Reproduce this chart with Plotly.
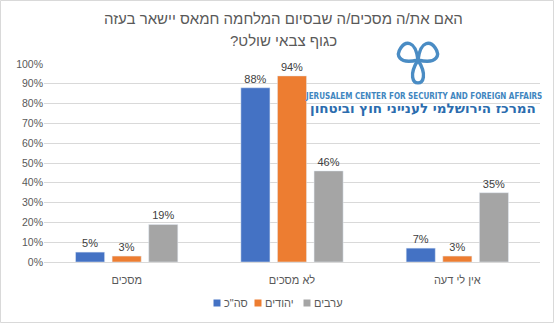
import math
import plotly.graph_objects as go

categories = ["מסכים", "לא מסכים", "אין לי דעה"]
series_names = ["סה\"כ", "יהודים", "ערבים"]
total_vals = [0.05, 0.88, 0.07]
jews_vals = [0.03, 0.94, 0.03]
arabs_vals = [0.19, 0.46, 0.35]
colors = ["#4472C4", "#ED7D31", "#A5A5A5"]
title_line1 = "האם את/ה מסכים/ה שבסיום המלחמה חמאס יישאר בעזה"
title_line2 = "כגוף צבאי שולט?\u200f"
logo_en = "JERUSALEM CENTER FOR SECURITY AND FOREIGN AFFAIRS"
logo_he = "המרכז הירושלמי לענייני חוץ וביטחון"

W, H = 554, 323
PL, PR, PT, PB = 44, 540, 64, 262


def px(x):
    return (x - PL) / (PR - PL)


def py(y):
    return (PB - y) / (PB - PT)


fig = go.Figure()
for name, vals, col in zip(series_names, [total_vals, jews_vals, arabs_vals], colors):
    fig.add_trace(go.Bar(
        x=categories, y=vals, name=name, marker_color=col,
        text=[f"{round(v*100)}%" for v in vals], textposition="outside",
        textfont=dict(size=11, color="#404040"), cliponaxis=False,
        showlegend=False,
    ))

shapes = []
annotations = []
# chart border
shapes.append(dict(type="rect", xref="paper", yref="paper",
                   x0=px(0.5), x1=px(W - 0.5), y0=py(0.5), y1=py(H - 0.5),
                   line=dict(color="#D9D9D9", width=1), layer="below"))

# trefoil logo (decorative)
cx, cy = 418, 60


def lobe(angle_deg, L, spread):
    pts = []
    for s in (spread, -spread):
        a = math.radians(angle_deg + s)
        pts.append((cx + L * math.cos(a), cy + L * math.sin(a)))
    return (f"M {px(cx)},{py(cy)} C {px(pts[0][0])},{py(pts[0][1])} "
            f"{px(pts[1][0])},{py(pts[1][1])} {px(cx)},{py(cy)}")


for ang, L, sp in [(-145, 42, 48), (-35, 42, 48), (90, 36, 32)]:
    shapes.append(dict(type="path", xref="paper", yref="paper", path=lobe(ang, L, sp),
                       line=dict(color="#4A8CC4", width=3.4)))

# manual legend (Excel style: small square right before the label)
legend_x = [217, 258, 307]
for name, col, lx in zip(series_names, colors, legend_x):
    shapes.append(dict(type="rect", xref="paper", yref="paper",
                       x0=px(lx - 3.5), x1=px(lx + 3.5), y0=py(306.5), y1=py(299.5),
                       fillcolor=col, line=dict(width=0)))
    annotations.append(dict(text=name, x=px(lx + 5), y=py(303), xref="paper", yref="paper",
                            xanchor="left", yanchor="middle", showarrow=False,
                            font=dict(size=11, color="#595959")))

annotations += [
    dict(text=title_line1, x=px(283), y=py(18), xref="paper", yref="paper",
         xanchor="center", yanchor="middle", showarrow=False,
         font=dict(size=15, color="#595959", family="Liberation Sans, Arial")),
    dict(text=title_line2, x=px(283), y=py(40), xref="paper", yref="paper",
         xanchor="center", yanchor="middle", showarrow=False,
         font=dict(size=15, color="#595959", family="Liberation Sans, Arial")),
    dict(text=f"<b>{logo_en}</b>", x=px(423), y=py(96), xref="paper", yref="paper",
         xanchor="center", yanchor="middle", showarrow=False,
         font=dict(size=8, color="#3F86C0", family="DejaVu Sans Condensed, DejaVu Sans")),
    dict(text=f"<b>{logo_he}</b>", x=px(423), y=py(108), xref="paper", yref="paper",
         xanchor="center", yanchor="middle", showarrow=False,
         font=dict(size=13.5, color="#2B6CAE", family="DejaVu Sans")),
]

fig.update_layout(
    width=W, height=H,
    margin=dict(l=PL, r=W - PR, t=PT, b=H - PB),
    paper_bgcolor="white", plot_bgcolor="white",
    barmode="group", bargap=0.336, bargroupgap=0.205,
    font=dict(family="Liberation Sans, Arial", color="#595959", size=11),
    showlegend=False,
    shapes=shapes,
    annotations=annotations,
    yaxis=dict(range=[0, 1], dtick=0.1, tickformat=".0%", gridcolor="#D9D9D9",
               gridwidth=1, zeroline=False, showline=False, ticks="",
               tickfont=dict(size=10.5, color="#595959"), fixedrange=True),
    xaxis=dict(showline=True, linecolor="#D9D9D9", ticks="", ticklabelstandoff=8,
               tickfont=dict(size=11, color="#595959"), fixedrange=True),
)

fig.write_html("out.html")
